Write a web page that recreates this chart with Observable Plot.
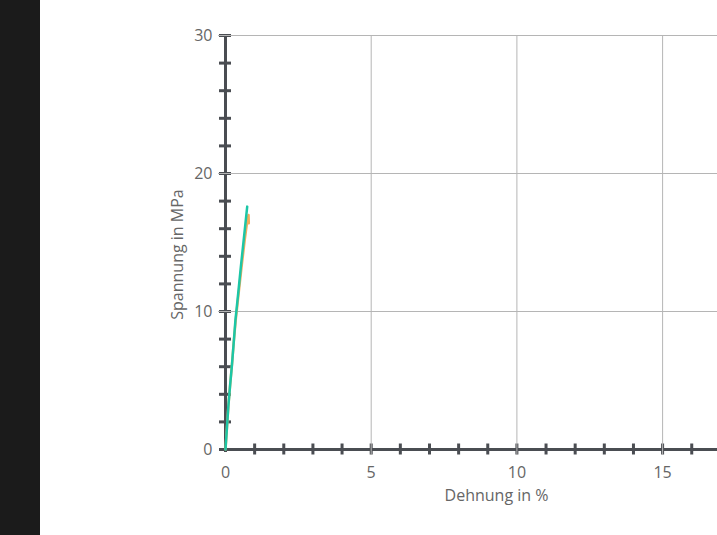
<!DOCTYPE html>
<html>
<head>
<meta charset="utf-8">
<script src="https://cdn.jsdelivr.net/npm/d3@7"></script>
<script src="https://cdn.jsdelivr.net/npm/@observablehq/plot@0.6"></script>
<style>
  html, body { margin: 0; padding: 0; background: #fff; overflow: hidden; width: 717px; height: 535px; }
  #strip { position: absolute; left: 0; top: 0; width: 40px; height: 535px; background: #1b1b1b; }
  #chart { position: absolute; left: 0; top: 0; width: 767px; }
  #chart svg { max-width: none !important; }
</style>
</head>
<body>
<div id="strip"></div>
<div id="chart"></div>
<script>
// Series 1 (teal): strain in %, stress in MPa
const tealStrain = [0, 0.05, 0.10, 0.16, 0.22, 0.28, 0.34, 0.44, 0.53, 0.64, 0.745];
const tealStress = [0, 1.6, 3.2, 4.7, 6.1, 7.7, 9.35, 11.4, 13.3, 15.5, 17.6];
// Series 2 (orange)
const orangeStrain = [0, 0.05, 0.10, 0.16, 0.22, 0.28, 0.35, 0.45, 0.55, 0.66, 0.75, 0.79, 0.80];
const orangeStress = [0, 1.6, 3.2, 4.7, 6.1, 7.7, 9.35, 11.3, 13.2, 15.2, 16.6, 17.0, 16.4];

const xMajor = [0, 5, 10, 15];
const xMinor = d3.range(1, 19);
const yMajor = [0, 10, 20, 30];
const yMinor = d3.range(0, 31, 2);
const xGrid = [5, 10, 15];
const yGrid = [10, 20, 30];

const teal = tealStrain.map((x, i) => ({x, y: tealStress[i]}));
const orange = orangeStrain.map((x, i) => ({x, y: orangeStress[i]}));

const axisColor = "#4a4d52";
const gridColor = "#b5b5b5";
const textColor = "#666";

const chart = Plot.plot({
  width: 767,
  height: 535,
  marginLeft: 225,
  marginRight: 0,
  marginTop: 35,
  marginBottom: 86,
  style: {fontFamily: "'Open Sans', sans-serif", fontSize: "16px", color: textColor, background: "transparent", overflow: "visible"},
  x: {domain: [0, 18.6], axis: null},
  y: {domain: [0, 30], axis: null},
  marks: [
    Plot.ruleY([0], {stroke: axisColor, strokeWidth: 3}),
    Plot.ruleX([0], {stroke: axisColor, strokeWidth: 3, insetBottom: -3}),
    Plot.ruleX(xMinor, {x: d => d, y1: 0, y2: 0, insetTop: -5.5, insetBottom: -5.5, stroke: axisColor, strokeWidth: 3}),
    Plot.ruleY(yMinor, {y: d => d, x1: 0, x2: 0, insetLeft: -6, insetRight: -6, stroke: axisColor, strokeWidth: 3}),
    Plot.ruleX(xGrid, {stroke: gridColor, strokeWidth: 1, insetBottom: -6}),
    Plot.ruleY(yGrid, {stroke: gridColor, strokeWidth: 1, insetLeft: -7}),
    Plot.axisX(xMajor, {tickSize: 0, tickPadding: 17, fontSize: 16, color: textColor, label: null}),
    Plot.axisY(yMajor, {tickSize: 0, tickPadding: 13, fontSize: 16, color: textColor, label: null}),
    Plot.line(orange, {x: "x", y: "y", stroke: "#f3ac5c", strokeWidth: 2.5}),
    Plot.line(teal, {x: "x", y: "y", stroke: "#1cc6a6", strokeWidth: 2.5}),
    Plot.text(["Dehnung in %"], {frameAnchor: "bottom", dy: 51, fill: textColor, fontSize: 16}),
    Plot.text(["Spannung in MPa"], {frameAnchor: "left", textAnchor: "middle", rotate: -90, dx: -48, dy: 12, fill: textColor, fontSize: 16})
  ]
});
document.getElementById("chart").append(chart);
</script>
</body>
</html>
